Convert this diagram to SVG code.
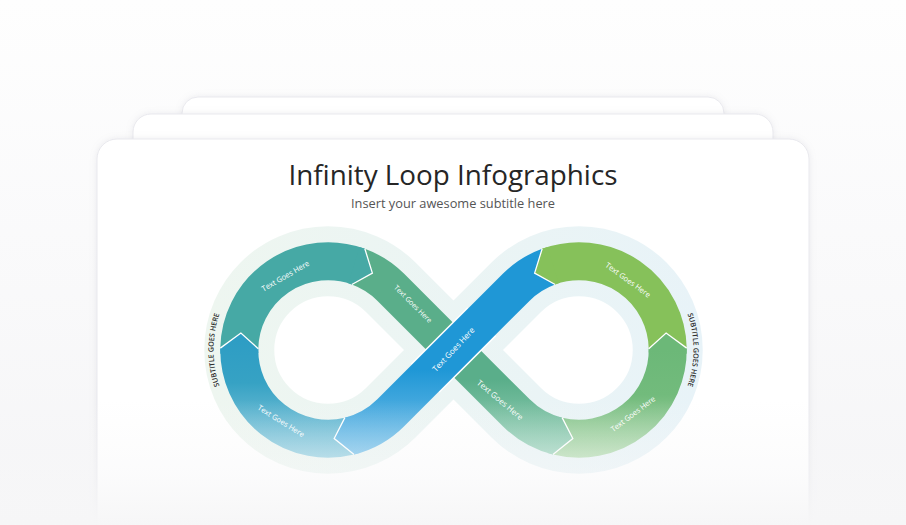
<svg xmlns="http://www.w3.org/2000/svg" width="906" height="525" viewBox="0 0 906 525">
<defs>
<linearGradient id="bg" x1="0" y1="0" x2="0" y2="525" gradientUnits="userSpaceOnUse"><stop offset="0" stop-color="#fefefe"/><stop offset="1" stop-color="#f5f5f7"/></linearGradient>
<linearGradient id="fade" x1="0" y1="400" x2="0" y2="525" gradientUnits="userSpaceOnUse"><stop offset="0" stop-color="#f7f7f8" stop-opacity="0"/><stop offset="0.6" stop-color="#f7f7f8" stop-opacity="0.45"/><stop offset="1" stop-color="#f6f6f7" stop-opacity="1"/></linearGradient>
<linearGradient id="halo" x1="210" y1="0" x2="700" y2="0" gradientUnits="userSpaceOnUse"><stop offset="0" stop-color="#eef6f0"/><stop offset="1" stop-color="#e8f3f8"/></linearGradient>
<linearGradient id="gBL" x1="0" y1="340" x2="0" y2="462" gradientUnits="userSpaceOnUse"><stop offset="0" stop-color="#2e9dc4"/><stop offset="0.35" stop-color="#36a2c4"/><stop offset="1" stop-color="#9bd2e2"/></linearGradient>
<linearGradient id="gBlue" x1="0" y1="370" x2="0" y2="462" gradientUnits="userSpaceOnUse"><stop offset="0" stop-color="#1f97d6"/><stop offset="1" stop-color="#82c6ec"/></linearGradient>
<linearGradient id="gGreen" x1="0" y1="380" x2="0" y2="462" gradientUnits="userSpaceOnUse"><stop offset="0" stop-color="#5aae8a"/><stop offset="1" stop-color="#a4d7c2"/></linearGradient>
<linearGradient id="gBR" x1="0" y1="350" x2="0" y2="462" gradientUnits="userSpaceOnUse"><stop offset="0" stop-color="#6cb878"/><stop offset="0.4" stop-color="#72bb7c"/><stop offset="1" stop-color="#b8ddb4"/></linearGradient>
<filter id="sh" x="-10%" y="-10%" width="120%" height="120%"><feDropShadow dx="0" dy="0" stdDeviation="3" flood-color="#9a9aa8" flood-opacity="0.18"/></filter>
<style>
.card{fill:#ffffff;stroke:#e9e9ee;stroke-width:1;filter:url(#sh)}
.seg{fill:none;stroke-width:38;stroke-linecap:butt}
.chev{fill:none;stroke:#ffffff;stroke-width:1.3;stroke-linejoin:miter}
.lbl{font-family:"Open Sans","Liberation Sans",sans-serif;font-size:7.5px;fill:#ffffff;text-anchor:middle}
.side{font-family:"Open Sans","Liberation Sans",sans-serif;font-size:7.2px;font-weight:600;fill:#2d2d2d;text-anchor:middle}
</style>
<path id="arcL" d="M 232.9 412.9 A 112 112 0 0 1 232.9 287.1"/>
<path id="arcR" d="M 674.1 287.1 A 112 112 0 0 1 674.1 412.9"/>
</defs>
<rect x="0" y="0" width="906" height="525" fill="url(#bg)"/>
<g id="cards">
<rect class="card" x="182" y="97" width="542" height="460" rx="16"/>
<rect class="card" x="133" y="114" width="640" height="450" rx="18"/>
<rect class="card" x="97" y="139" width="712" height="440" rx="20"/>
</g>
<g id="title">
<text x="453" y="184.5" font-family="'Open Sans','Liberation Sans',sans-serif" font-size="27.8" fill="#262626" text-anchor="middle">Infinity Loop Infographics</text>
<text x="453" y="207.5" font-family="'Open Sans','Liberation Sans',sans-serif" font-size="12.8" fill="#555555" text-anchor="middle">Insert your awesome subtitle here</text>
</g>
<g id="halo">
<path d="M 453.5 350 L 390.75 287.25 A 88.74 88.74 0 1 0 390.75 412.75 L 516.25 287.25 A 88.74 88.74 0 1 1 516.25 412.75 Z" fill="none" stroke="url(#halo)" stroke-width="70" stroke-linejoin="round"/>
</g>
<g id="connectors">
<path id="seg-green" class="seg" stroke="url(#gGreen)" d="M 358.35 266.61 A 88.74 88.74 0 0 1 390.75 287.25 L 516.25 412.75 A 88.74 88.74 0 0 0 557.53 436.10"/>
<path id="seg-topleft" class="seg" stroke="#46a9a5" d="M 239.28 348.45 A 88.74 88.74 0 0 1 358.35 266.61"/>
<path id="seg-bottomleft" class="seg" stroke="url(#gBL)" d="M 349.47 436.10 A 88.74 88.74 0 0 1 239.28 348.45"/>
<path id="seg-topright" class="seg" stroke="#86c15a" d="M 667.72 348.45 A 88.74 88.74 0 0 0 548.65 266.61"/>
<path id="seg-bottomright" class="seg" stroke="url(#gBR)" d="M 557.53 436.10 A 88.74 88.74 0 0 0 667.72 348.45"/>
<path d="M 425.2 378.3 L 481.8 321.7" fill="none" stroke="#ffffff" stroke-width="41"/>
<path id="seg-blue" class="seg" stroke="url(#gBlue)" d="M 548.65 266.61 A 88.74 88.74 0 0 0 516.25 287.25 L 390.75 412.75 A 88.74 88.74 0 0 1 349.47 436.10"/>
</g>
<g id="chevrons">
<polygon fill="url(#gBL)" points="220.33,353.76 220.28,348.12 240.89,333.07 258.27,348.78 258.30,352.43"/>
<polygon fill="#46a9a5" points="359.50,246.97 364.85,248.76 372.37,273.15 351.85,284.47 348.39,283.31"/>
<polygon fill="url(#gBlue)" points="359.50,453.03 354.06,454.54 334.19,438.52 344.87,417.67 348.39,416.69"/>
<polygon fill="url(#gBR)" points="686.67,353.76 686.72,348.12 666.11,333.07 648.73,348.78 648.70,352.43"/>
<polygon fill="#86c15a" points="547.50,246.97 542.15,248.76 534.63,273.15 555.15,284.47 558.61,283.31"/>
<polygon fill="url(#gGreen)" points="547.50,453.03 552.94,454.54 572.81,438.52 562.13,417.67 558.61,416.69"/>
<polyline class="chev" points="220.28,348.12 240.89,333.07 258.27,348.78"/>
<polyline class="chev" points="364.85,248.76 372.37,273.15 351.85,284.47"/>
<polyline class="chev" points="354.06,454.54 334.19,438.52 344.87,417.67"/>
<polyline class="chev" points="686.72,348.12 666.11,333.07 648.73,348.78"/>
<polyline class="chev" points="542.15,248.76 534.63,273.15 555.15,284.47"/>
<polyline class="chev" points="552.94,454.54 572.81,438.52 562.13,417.67"/>
</g>
<g id="node-topleft"><text class="lbl" transform="translate(285.5 276) rotate(-30)" dy="2.6">Text Goes Here</text></g>
<g id="node-greenupper"><text class="lbl" style="font-size:7px" transform="translate(413 304) rotate(45)" dy="2.4">Text Goes Here</text></g>
<g id="node-blue"><text class="lbl" style="font-size:8px" transform="translate(453.5 349.5) rotate(-47)" dy="2.8">Text Goes Here</text></g>
<g id="node-greenlower"><text class="lbl" style="font-size:8px" transform="translate(500 400) rotate(40)" dy="2.8">Text Goes Here</text></g>
<g id="node-bottomleft"><text class="lbl" transform="translate(281 421) rotate(32)" dy="2.6">Text Goes Here</text></g>
<g id="node-topright"><text class="lbl" transform="translate(628 280) rotate(36)" dy="2.6">Text Goes Here</text></g>
<g id="node-bottomright"><text class="lbl" transform="translate(633 414) rotate(-37)" dy="2.6">Text Goes Here</text></g>
<g id="node-subtitle-left"><text class="side"><textPath href="#arcL" startOffset="50%">SUBTITLE GOES HERE</textPath></text></g>
<g id="node-subtitle-right"><text class="side"><textPath href="#arcR" startOffset="50%">SUBTITLE GOES HERE</textPath></text></g>
<rect x="0" y="400" width="906" height="125" fill="url(#fade)"/>
</svg>
